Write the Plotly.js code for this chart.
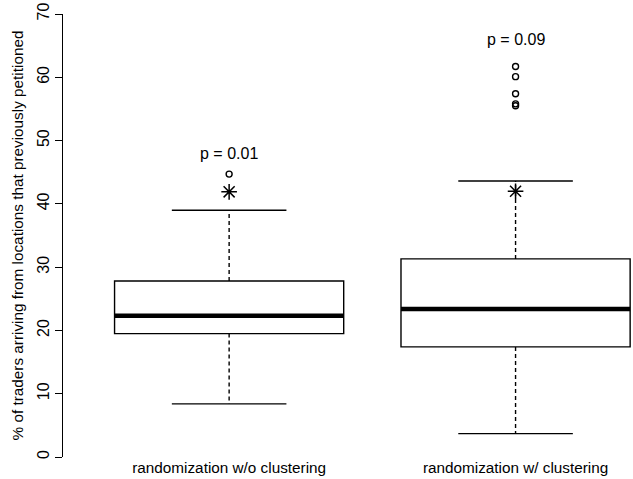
<!DOCTYPE html>
<html>
<head>
<meta charset="utf-8">
<script src="https://cdn.plot.ly/plotly-3.0.1.min.js"></script>
<style>html,body{margin:0;padding:0;background:#fff;}#chart{width:633px;height:479px;}</style>
</head>
<body>
<div id="chart"></div>
<script>
// ---- data ----
const categories = ["randomization w/o clustering", "randomization w/ clustering"];
const positions = [1, 2];
const q1 = [19.5, 17.4];
const median = [22.3, 23.4];
const q3 = [27.8, 31.3];
const lowerWhisker = [8.4, 3.7];
const upperWhisker = [39.0, 43.6];
const outliersA = [44.7];
const outliersB = [61.7, 60.1, 57.4, 55.8, 55.5];
const observed = [41.9, 42.0];
const pLabels = ["p = 0.01", "p = 0.09"];
const pLabelY = [48.0, 66.0];
const yTicks = [0, 10, 20, 30, 40, 50, 60, 70];
const yTitle = "% of traders arriving from locations that previously petitioned";

// ---- styling constants ----
const boxHalf = 0.4, capHalf = 0.2;
const font = "Liberation Sans, Arial, Helvetica, sans-serif";

function segments(fn) {
  const xs = [], ys = [];
  positions.forEach((p, i) => {
    fn(p, i).forEach(seg => { xs.push(seg[0], seg[2], null); ys.push(seg[1], seg[3], null); });
  });
  return {x: xs, y: ys};
}

const traces = [];
traces.push({
  type: "box", x: positions, q1: q1, median: median, q3: q3,
  lowerfence: q1, upperfence: q3, width: 2 * boxHalf,
  line: {color: "black", width: 1.4}, fillcolor: "white",
  whiskerwidth: 0, boxpoints: false, showlegend: false, hoverinfo: "skip"
});
const med = segments((p, i) => [[p - boxHalf, median[i], p + boxHalf, median[i]]]);
traces.push({type: "scatter", mode: "lines", x: med.x, y: med.y, line: {color: "black", width: 4.5}, showlegend: false, hoverinfo: "skip"});
const wh = segments((p, i) => [[p, q3[i], p, upperWhisker[i]], [p, q1[i], p, lowerWhisker[i]]]);
traces.push({type: "scatter", mode: "lines", x: wh.x, y: wh.y, line: {color: "black", width: 1.4, dash: "4px,3px"}, showlegend: false, hoverinfo: "skip"});
const cap = segments((p, i) => [[p - capHalf, upperWhisker[i], p + capHalf, upperWhisker[i]], [p - capHalf, lowerWhisker[i], p + capHalf, lowerWhisker[i]]]);
traces.push({type: "scatter", mode: "lines", x: cap.x, y: cap.y, line: {color: "black", width: 1.4}, showlegend: false, hoverinfo: "skip"});
traces.push({
  type: "scatter", mode: "markers",
  x: outliersA.map(() => positions[0]).concat(outliersB.map(() => positions[1])),
  y: outliersA.concat(outliersB),
  marker: {symbol: "circle-open", size: 6, color: "black", line: {width: 1.4}},
  showlegend: false, hoverinfo: "skip"
});
traces.push({
  type: "scatter", mode: "markers", x: positions, y: observed,
  marker: {symbol: "asterisk-open", size: 13, color: "black", line: {width: 1.5}},
  showlegend: false, hoverinfo: "skip"
});

const annotations = positions.map((p, i) => ({
  x: p, y: pLabelY[i], xref: "x", yref: "y", text: pLabels[i], showarrow: false,
  font: {family: font, size: 16, color: "black"}, xanchor: "center", yanchor: "middle"
}));

const layout = {
  width: 633, height: 479,
  margin: {l: 63, r: 0, t: 14, b: 22, pad: 0},
  paper_bgcolor: "white", plot_bgcolor: "white",
  font: {family: font, size: 15, color: "black"},
  showlegend: false,
  xaxis: {
    range: [0.42, 2.41], tickvals: positions, ticktext: categories,
    showgrid: false, zeroline: false, showline: false, ticks: "", automargin: false,
    tickfont: {family: font, size: 15.3, color: "black"}
  },
  yaxis: {
    range: [0, 70], tickvals: yTicks, ticktext: yTicks.map(String),
    showgrid: false, zeroline: false, showline: true, linecolor: "black", linewidth: 1,
    ticks: "outside", ticklen: 7, tickwidth: 1, tickcolor: "black", tickangle: -90,
    automargin: false, tickfont: {family: font, size: 16, color: "black"},
    title: {text: yTitle, font: {family: font, size: 15.3, color: "black"}, standoff: 7}
  },
  annotations: annotations
};

Plotly.newPlot("chart", traces, layout, {staticPlot: true, displayModeBar: false});
</script>
</body>
</html>
